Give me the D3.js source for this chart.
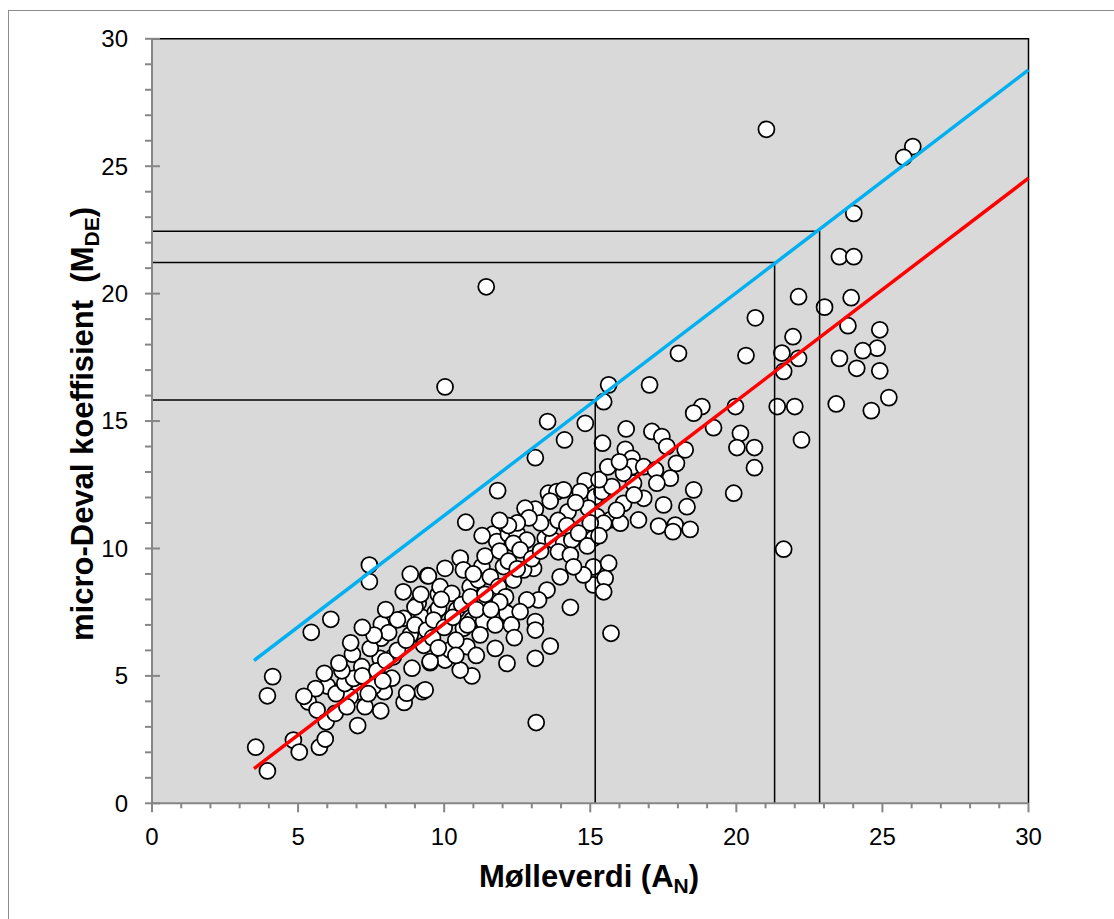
<!DOCTYPE html>
<html>
<head>
<meta charset="utf-8">
<script src="https://cdn.jsdelivr.net/npm/d3@7"></script>
<style>
  html, body { margin: 0; padding: 0; background: #ffffff; }
  svg { display: block; }
  text { font-family: "Liberation Sans", Arial, sans-serif; }
</style>
</head>
<body>
<svg id="chart" width="1114" height="919"></svg>
<script>
// ---- data ----
const xTicks = [0, 5, 10, 15, 20, 25, 30];
const yTicks = [0, 5, 10, 15, 20, 25, 30];
const xTitle = "Mølleverdi";
const xTitleSub = "N";
const yTitle = "micro-Deval koeffisient  ";
const yTitleSub = "DE";

// [Mølleverdi A_N, micro-Deval M_DE]
const samples = [
  [7.44,9.35],[7.44,8.70],[8.84,8.99],[9.43,8.93],[6.12,7.22],[5.45,6.71],[4.13,4.97],[3.95,4.22],[3.55,2.20],[3.95,1.27],
  [4.84,2.48],[5.04,2.01],[5.73,2.20],[5.93,2.52],[5.35,3.98],[5.65,3.66],[5.96,3.20],[7.04,3.05],[6.86,5.85],[7.83,3.63],
  [8.63,3.96],[9.25,4.38],[7.95,4.38],[7.85,7.03],[7.84,6.48],[8.84,6.61],[8.61,7.26],[9.24,7.30],[9.11,7.86],[9.52,5.52],
  [7.81,5.69],[7.18,5.36],[6.44,4.38],[7.07,4.38],[6.78,4.18],[7.47,6.08],[8.26,5.75],[8.21,4.91],[8.72,4.32],[6.27,3.53],
  [6.67,3.79],[7.29,3.79],[7.58,4.58],
  [6.0,4.6],[6.3,4.3],[6.6,4.7],[6.9,4.9],[7.2,5.0],[6.5,5.2],[7.7,5.2],[8.0,5.6],[8.4,6.0],[8.7,6.4],[7.4,4.3],[7.9,4.8],
  [8.1,6.7],[7.6,6.6],[8.4,7.2],[9.0,7.0],[8.9,5.3],[9.4,6.8],[9.7,7.5],[9.0,7.7],[9.8,8.2],
  [13.54,14.98],[14.83,14.91],[14.12,14.26],[15.42,14.13],[13.12,13.56],[11.83,12.27],[10.74,11.03],[14.83,12.65],[13.57,12.17],
  [13.86,12.23],[14.09,12.30],[13.63,11.86],[13.12,11.54],[12.77,11.58],[14.24,11.44],[14.66,12.23],[15.17,12.03],[15.40,12.23],
  [15.74,12.43],[14.94,11.58],[15.23,11.25],[15.68,11.12],[11.67,10.56],[11.80,10.27],[12.20,10.56],[12.49,10.60],[12.83,10.33],
  [12.37,10.20],[12.60,9.94],[13.46,10.40],[13.72,10.33],[14.09,10.20],[14.37,10.33],[13.91,9.87],[14.32,9.74],[15.11,10.40],
  [15.11,9.28],[15.11,8.57],[15.63,9.42],[15.51,8.83],[15.46,8.30],[14.77,8.96],[14.43,9.28],[13.97,8.89],[13.52,8.37],
  [13.23,7.98],[14.32,7.69],[13.06,9.22],[12.72,9.16],[12.03,9.29],[11.29,9.29],[10.55,9.62],[10.66,9.16],[10.03,9.22],
  [9.46,8.92],[9.86,8.50],[10.26,8.24],[10.89,8.50],[11.17,8.76],[11.58,8.89],[11.86,8.50],[12.37,8.76],[12.83,7.98],
  [12.15,7.46],[12.60,7.52],[13.12,7.13],[13.12,6.80],[10.95,7.19],[11.35,7.13],[11.75,7.00],[10.66,6.87],[10.43,7.59],
  [9.81,7.65],[9.64,7.19],[11.23,6.61],[10.78,6.15],[11.75,6.08],[12.15,5.49],[13.12,5.69],[13.63,6.17],[10.95,5.00],
  [10.55,5.23],[10.03,5.62],[9.52,5.56],[10.20,6.02],[9.35,4.45],[15.71,6.67],
  [18.02,17.66],[20.33,17.57],[21.56,17.67],[21.94,18.31],[21.62,16.95],[17.03,16.42],[15.63,16.42],[15.46,15.76],[18.82,15.57],
  [18.54,15.31],[19.97,15.57],[21.40,15.57],[22.00,15.57],[19.22,14.74],[20.14,14.52],[20.02,13.96],[20.62,13.96],[20.62,13.17],
  [19.91,12.17],[21.62,9.97],[16.23,14.69],[17.11,14.59],[17.45,14.39],[17.62,14.00],[18.25,13.87],[17.95,13.34],[16.20,13.89],
  [16.43,13.54],[16.43,13.21],[16.83,13.21],[17.23,13.08],[17.74,12.76],[17.28,12.56],[16.48,12.56],[18.54,12.30],[16.14,12.95],
  [16.83,11.97],[16.14,11.77],[17.51,11.71],[18.31,11.64],[16.65,11.12],[16.03,10.99],[17.34,10.88],[17.91,10.92],[18.42,10.75],
  [17.83,10.66],[15.46,10.99],
  [26.04,25.77],[25.73,25.35],[24.02,23.15],[23.53,21.45],[24.02,21.45],[22.13,19.88],[23.93,19.84],[23.02,19.47],[23.82,18.74],
  [24.91,18.58],[22.13,17.46],[24.82,17.86],[24.33,17.76],[23.53,17.46],[24.12,17.07],[24.91,16.97],[25.22,15.92],[23.42,15.67],
  [24.62,15.41],[22.23,14.26],
  [21.03,26.45],[11.44,20.27],[10.03,16.34],[20.65,19.05],[13.15,3.17],
  [9.3,6.2],[9.6,6.5],[10.0,6.9],[10.3,7.3],[10.6,7.8],[10.9,8.1],[9.9,8.0],[10.4,6.4],[10.8,7.0],[11.1,7.6],[11.4,8.2],
  [11.0,9.0],[11.4,9.7],[11.9,9.9],[12.2,9.5],[12.5,9.2],[12.1,8.1],[13.0,9.6],[13.3,9.9],[13.6,10.8],[13.9,11.1],[14.2,10.9],
  [13.3,11.0],[12.9,11.2],[12.5,11.0],[12.2,10.9],[14.5,11.8],[15.0,11.0],[14.6,10.6],[14.9,10.1],[15.3,10.5],[15.9,11.5],
  [16.5,12.1],[15.3,12.7],[15.6,13.2],[16.0,13.4],[12.3,7.0],[11.9,7.9],[9.2,8.2],[8.6,8.3],[8.0,7.6],[7.2,6.9],[6.8,6.3],
  [6.4,5.5],[5.9,5.1],[5.6,4.5],[5.2,4.2],[11.6,7.6],[12.4,6.5],[11.1,5.8],[10.4,5.8],[9.8,6.1],[11.3,10.5],[11.9,11.1]
];

// upper (blue) and lower (red) limit lines, [A_N, M_DE] end points
const blueLine = [[3.49, 5.60], [30, 28.78]];
const redLine = [[3.49, 1.36], [30, 24.53]];
// guide corners where reading lines meet the blue line
const guides = [[15.17, 15.83], [21.31, 21.22], [22.85, 22.45]];

// ---- layout ----
const svg = d3.select("#chart");
const L = 152, R = 1028.5, T = 38.8, B = 803.3;
const x = d3.scaleLinear().domain([0, 30]).range([L, R]);
const y = d3.scaleLinear().domain([0, 30]).range([B, T]);

// outer frame (only left/top visible in crop)
svg.append("rect").attr("x", 8.5).attr("y", 10.5).attr("width", 1200).attr("height", 1000)
  .attr("fill", "none").attr("stroke", "#8c8c8c").attr("stroke-width", 1);

// plot background
svg.append("rect").attr("x", L).attr("y", T).attr("width", R - L).attr("height", B - T)
  .attr("fill", "#d9d9d9");

// top & right black border
svg.append("path").attr("d", `M${L},${T}H${R}V${B}`).attr("fill", "none")
  .attr("stroke", "#000").attr("stroke-width", 1.5);

// points
svg.append("g").selectAll("circle").data(samples).join("circle")
  .attr("cx", d => x(d[0])).attr("cy", d => y(d[1])).attr("r", 8)
  .attr("fill", "#fff").attr("stroke", "#000").attr("stroke-width", 1.75);

// guide lines
const gg = svg.append("g").attr("stroke", "#000").attr("stroke-width", 1.5).attr("fill", "none");
guides.forEach(g => {
  gg.append("path").attr("d", `M${x(0)},${y(g[1])}H${x(g[0])}V${y(0)}`);
});

// limit lines
const line = d3.line().x(d => x(d[0])).y(d => y(d[1]));
svg.append("path").datum(blueLine).attr("d", line).attr("stroke", "#00b0f0").attr("stroke-width", 3.5).attr("fill", "none");
svg.append("path").datum(redLine).attr("d", line).attr("stroke", "#ff0000").attr("stroke-width", 3.5).attr("fill", "none");

// axes
const axisColor = "#868686";
const minorY = d3.range(0, 31, 1);
const minorX = d3.range(0, 31, 1);
const ax = svg.append("g").attr("stroke", axisColor).attr("stroke-width", 2);
ax.append("line").attr("x1", L).attr("x2", L).attr("y1", T).attr("y2", B);
ax.append("line").attr("x1", L).attr("x2", R).attr("y1", B).attr("y2", B);
minorY.forEach(v => {
  const major = v % 5 === 0;
  ax.append("line").attr("x1", L - 7).attr("x2", major ? L + 8 : L).attr("y1", y(v)).attr("y2", y(v));
});
minorX.forEach(v => {
  const major = v % 5 === 0;
  ax.append("line").attr("x1", x(v)).attr("x2", x(v)).attr("y1", B).attr("y2", major ? B + 9 : B + 5);
});

// tick labels
svg.append("g").selectAll("text").data(yTicks).join("text")
  .attr("x", 128).attr("y", d => y(d)).attr("dy", "0.35em").attr("text-anchor", "end")
  .attr("font-size", 24).attr("fill", "#000").text(d => d);
svg.append("g").selectAll("text").data(xTicks).join("text")
  .attr("x", d => x(d)).attr("y", 845).attr("text-anchor", "middle")
  .attr("font-size", 24).attr("fill", "#000").text(d => d);

// axis titles
const xt = svg.append("text").attr("x", 589).attr("y", 887).attr("text-anchor", "middle")
  .attr("font-size", 31).attr("font-weight", "bold");
xt.append("tspan").text(xTitle + " (A");
xt.append("tspan").attr("font-size", 21).attr("dy", 6).text(xTitleSub);
xt.append("tspan").attr("dy", -6).text(")");

const yt = svg.append("text").attr("transform", "translate(93,424) rotate(-90)").attr("text-anchor", "middle")
  .attr("font-size", 31).attr("font-weight", "bold").style("white-space", "pre");
yt.append("tspan").text(yTitle + "(M");
yt.append("tspan").attr("font-size", 21).attr("dy", 6).text(yTitleSub);
yt.append("tspan").attr("dy", -6).text(")");
</script>
</body>
</html>
